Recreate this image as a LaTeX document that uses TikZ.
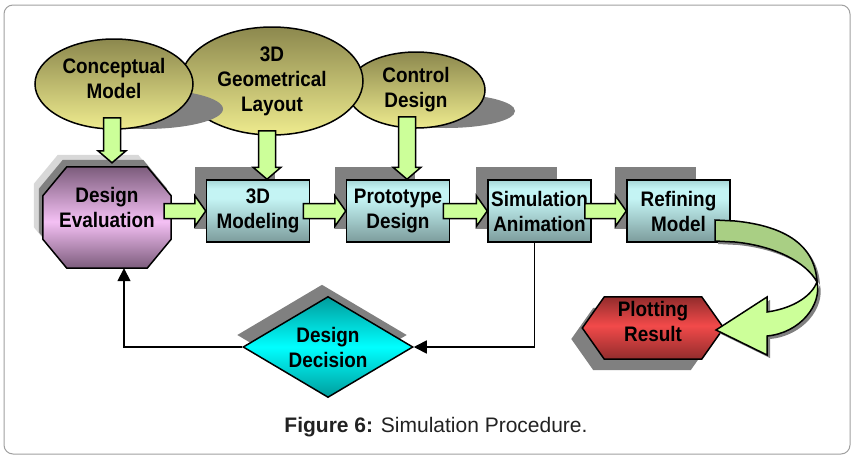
\documentclass[tikz,border=0pt]{standalone}
\usepackage{fontspec}
\setmainfont{Liberation Sans}
\newfontfamily\stagefont[FakeStretch=0.9]{Liberation Sans}
\usetikzlibrary{shapes.geometric,shadows,arrows.meta,backgrounds}

\definecolor{framegray}{HTML}{A0A0A0}
\definecolor{dropgraycol}{HTML}{808080}
\definecolor{palegraycol}{HTML}{D8D8D8}
\definecolor{ovaltop}{HTML}{8C884E}
\definecolor{ovalbot}{HTML}{EEEB8E}
\definecolor{arrowgreen}{HTML}{CCFF99}
\definecolor{bandgreen}{HTML}{A9CF84}
\definecolor{stagetop}{HTML}{A6D6D6}
\definecolor{stagelight}{HTML}{C4F4F4}
\definecolor{stagedark}{HTML}{7C9C9C}
\definecolor{octdark}{HTML}{7C5C7C}
\definecolor{octlight}{HTML}{F4C0F4}
\definecolor{decdark}{HTML}{009C9C}
\definecolor{declight}{HTML}{00FFFF}
\definecolor{resdark}{HTML}{922C2C}
\definecolor{reslight}{HTML}{F24A4A}
\definecolor{captiongray}{HTML}{222222}

\pgfdeclareverticalshading{stageshade}{100bp}{color(0bp)=(stagedark); color(25bp)=(stagedark); color(60bp)=(stagelight); color(68bp)=(stagelight); color(75bp)=(stagetop); color(100bp)=(stagetop)}
\pgfdeclareverticalshading{octshade}{100bp}{color(0bp)=(octdark); color(25bp)=(octdark); color(48bp)=(octlight); color(75bp)=(octdark); color(100bp)=(octdark)}
\pgfdeclareverticalshading{decshade}{100bp}{color(0bp)=(decdark); color(25bp)=(decdark); color(50bp)=(declight); color(75bp)=(decdark); color(100bp)=(decdark)}
\pgfdeclareverticalshading{resshade}{100bp}{color(0bp)=(resdark); color(25bp)=(resdark); color(52bp)=(reslight); color(75bp)=(resdark); color(100bp)=(resdark)}

\tikzset{
  every node/.style={font=\stagefont\bfseries\fontsize{21}{25}\selectfont, align=center, inner sep=0pt},
  oval/.style={ellipse, draw, line width=1.5pt, top color=ovaltop, bottom color=ovalbot},
  stage/.style={rectangle, draw, line width=1.5pt, shading=stageshade, minimum width=103pt, minimum height=62pt},
  decision/.style={diamond, aspect=1.68, draw, line width=1.5pt, shading=decshade,
    minimum width=170pt, minimum height=101pt,
    general shadow={shadow xshift=-6pt, shadow yshift=12pt, fill=dropgraycol}},
  outline/.style={draw, line width=1.5pt},
  blockarrow/.style={draw, line width=1.5pt, fill=arrowgreen, line join=miter},
  flow/.style={draw, line width=1.6pt, -{Triangle[length=13pt,width=13pt]}},
  dropgray/.style={fill=dropgraycol}
}

% octagon and hexagon round a named frame node
\newcommand{\octpath}[1]{([xshift=24pt]#1.north west) -- ([xshift=-24pt]#1.north east)
  -- ([yshift=-29pt]#1.north east) -- ([yshift=29pt]#1.south east) -- ([xshift=-24pt]#1.south east)
  -- ([xshift=24pt]#1.south west) -- ([yshift=29pt]#1.south west) -- ([yshift=-29pt]#1.north west) -- cycle}
\newcommand{\hexpath}[1]{([xshift=22pt]#1.north west) -- ([xshift=-22pt]#1.north east) -- (#1.east)
  -- ([xshift=-22pt]#1.south east) -- ([xshift=22pt]#1.south west) -- (#1.west) -- cycle}

% curved arrow from the last stage to the result
\newcommand{\bandpath}{(715,220) -- (735,221) .. controls (785,226) and (815,245) .. (817,282)
  .. controls (806,262) and (775,246) .. (735,242) -- (715,241) -- cycle}
\newcommand{\tippath}{(817,282) .. controls (822,305) and (800,333) .. (767,336) -- (767,355)
  -- (716,330) -- (767,297) -- (767,312) .. controls (795,308) and (812,295) .. (817,282) -- cycle}

\begin{document}
\begin{tikzpicture}[x=1pt,y=-1pt]
  \useasboundingbox (0,0) rectangle (854,461);
  \draw[framegray, line width=1pt, rounded corners=9pt] (4,5) rectangle (850,454);

  % inputs
  \fill[dropgray] (446,111) ellipse [x radius=69pt, y radius=17pt];
  \node[oval, minimum width=138pt, minimum height=76pt] (control) at (416,90) {Control\\Design};
  \node[oval, minimum width=182pt, minimum height=108pt] (layout) at (272,81) {3D\\Geometrical\\Layout};
  \fill[dropgray] (144,109) ellipse [x radius=79pt, y radius=20pt];
  \node[oval, minimum width=158pt, minimum height=90pt, label={[yshift=6pt]center:Conceptual\\Model}] (concept) at (114,84) {};

  % main stages
  \node[minimum width=128pt, minimum height=101pt, label={[yshift=10pt]center:Design\\Evaluation}] (eval) at (107,217.5) {};
  \node[stage] (model) at (258,211) {3D\\Modeling};
  \node[stage] (proto) at (398,211) {Prototype\\Design};
  \node[stage] (sim) at (539.5,211) {Simulation\\Animation};
  \node[stage] (refine) at (678.5,211) {Refining\\Model};

  \node[decision] (decide) at (328,347) {Design\\Decision};
  \node[minimum width=141pt, minimum height=62pt, label={[yshift=7pt]center:Plotting\\Result}] (plot) at (653,328) {};

  \begin{pgfonlayer}{background}
    \foreach \b in {model,proto,sim,refine}
      \fill[dropgray] ([xshift=-11pt,yshift=12pt]\b.north west) rectangle ([xshift=-35pt,yshift=14pt]\b.south east);
    \fill[palegraycol, transform canvas={shift={(-9pt,12pt)}}] \octpath{eval};
    \fill[dropgraycol, transform canvas={shift={(-4pt,7pt)}}] \octpath{eval};
    \shadedraw[outline, shading=octshade] \octpath{eval};
    \fill[dropgraycol, transform canvas={shift={(-11pt,-11pt)}}] \hexpath{plot};
    \shadedraw[outline, shading=resshade] \hexpath{plot};
  \end{pgfonlayer}

  % block arrows down
  \foreach \src/\dst/\dx/\gap/\inset in {concept/eval/5/4/12, layout/model/9/0/5, control/proto/9/0/12} {
    \path ([xshift=\dx pt,yshift=\gap pt]\dst.north) coordinate (tip);
    \path (tip |- \src.south) coordinate (foot);
    \filldraw[blockarrow] ([xshift=-8.5pt,yshift=\inset pt]foot) -- ([xshift=-8.5pt,yshift=12pt]tip)
      -- ([xshift=-14pt,yshift=12pt]tip) -- (tip) -- ([xshift=14pt,yshift=12pt]tip)
      -- ([xshift=8.5pt,yshift=12pt]tip) -- ([xshift=8.5pt,yshift=\inset pt]foot) -- cycle;
  }

  % block arrows right
  \foreach \a/\b in {eval/model, model/proto, proto/sim, sim/refine} {
    \path (\a.east |- \b.west) coordinate (foot);
    \filldraw[blockarrow] ([xshift=-7pt,yshift=7.5pt]foot) -- ([xshift=-11pt,yshift=7.5pt]\b.west)
      -- ([xshift=-11pt,yshift=15.5pt]\b.west) -- (\b.west) -- ([xshift=-11pt,yshift=-15.5pt]\b.west)
      -- ([xshift=-11pt,yshift=-7.5pt]\b.west) -- ([xshift=-7pt,yshift=-7.5pt]foot) -- cycle;
  }

  % feedback loop
  \draw[flow] ([xshift=-5pt]sim.south) |- (decide.east);
  \draw[flow] (decide.west) -| ([xshift=17pt]eval.south);

  % curved arrow
  \begin{scope}[shift={(3,3)}]
    \fill[dropgray] \bandpath;
    \fill[dropgray] \tippath;
  \end{scope}
  \filldraw[blockarrow, fill=bandgreen] \bandpath;
  \filldraw[blockarrow] \tippath;

  \node[font=\normalfont\fontsize{21}{25}\selectfont, text=captiongray] (caption) at (436,427)
    {\textbf{Figure 6:} Simulation Procedure.};
\end{tikzpicture}
\end{document}
